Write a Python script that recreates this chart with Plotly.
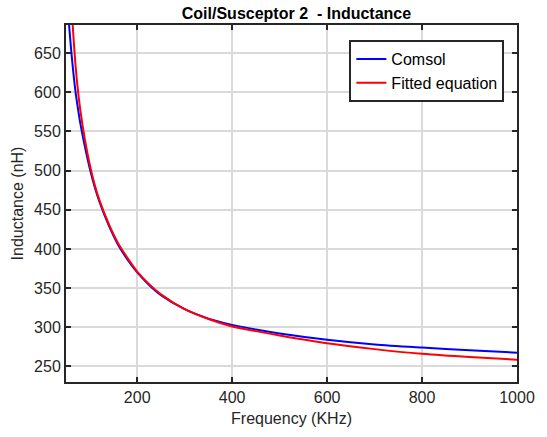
import plotly.graph_objects as go

# Frequency (KHz)
freq_comsol = [50, 55, 60, 65, 70, 75, 80, 90, 100, 110, 120, 140, 160, 180, 200, 225, 250, 300,
               350, 400, 450, 500, 600, 700, 800, 900, 1000]
ind_comsol = [742, 698, 660, 628, 601, 580, 561, 530, 503, 480, 461, 430, 405, 386, 370, 354, 341, 323,
              311, 303, 297, 292, 284, 278, 274, 270.5, 267.5]

freq_fit = [50, 55, 60, 65, 70, 75, 80, 90, 100, 110, 120, 140, 160, 180, 200, 225, 250, 300,
            350, 400, 450, 500, 600, 700, 800, 900, 1000]
ind_fit = [868, 796, 730, 677, 635, 603, 578, 539, 508, 483, 463, 432, 407, 388, 371, 355, 342, 323,
           310.5, 301, 295, 289.5, 279.5, 272, 266, 261.8, 258.5]

x_ticks = [200, 400, 600, 800, 1000]
y_ticks = [250, 300, 350, 400, 450, 500, 550, 600, 650]

FONT = "Liberation Sans, Arial, sans-serif"
AX = "#262626"

fig = go.Figure()
fig.add_trace(go.Scatter(x=freq_comsol, y=ind_comsol, mode="lines", name="Comsol",
                         line=dict(color="#0000FF", width=2, shape="spline", smoothing=0.8)))
fig.add_trace(go.Scatter(x=freq_fit, y=ind_fit, mode="lines", name="Fitted equation",
                         line=dict(color="#FF0000", width=2, shape="spline", smoothing=0.8)))

axis_common = dict(showline=True, linecolor=AX, linewidth=2, mirror="ticks",
                   ticks="inside", ticklen=5, tickwidth=2, tickcolor=AX,
                   showgrid=True, gridcolor="#DADADA", gridwidth=1.5, zeroline=False,
                   tickfont=dict(family=FONT, size=16, color=AX),
                   title_font=dict(family=FONT, size=16, color=AX))

fig.update_xaxes(range=[50, 1000], tickvals=x_ticks, title_text="Frequency (KHz)",
                 title_standoff=8, **axis_common)
fig.update_yaxes(range=[230, 686], tickvals=y_ticks, title_text="Inductance (nH)",
                 title_standoff=6, **axis_common)

fig.update_layout(
    width=547, height=437,
    margin=dict(l=66, r=20, t=25, b=54),
    paper_bgcolor="white", plot_bgcolor="white",
    title=dict(text="<b>Coil/Susceptor 2  - Inductance</b>", x=0.542, xanchor="center",
               y=1 - 13 / 437, yanchor="middle", yref="container",
               font=dict(family=FONT, size=16, color="#000000")),
    legend=dict(x=0.972, y=0.958, xanchor="right", yanchor="top",
                bgcolor="white", bordercolor=AX, borderwidth=2,
                font=dict(family=FONT, size=16, color="#000000"),
                tracegroupgap=0),
    showlegend=True,
)

fig.write_html("out.html")
